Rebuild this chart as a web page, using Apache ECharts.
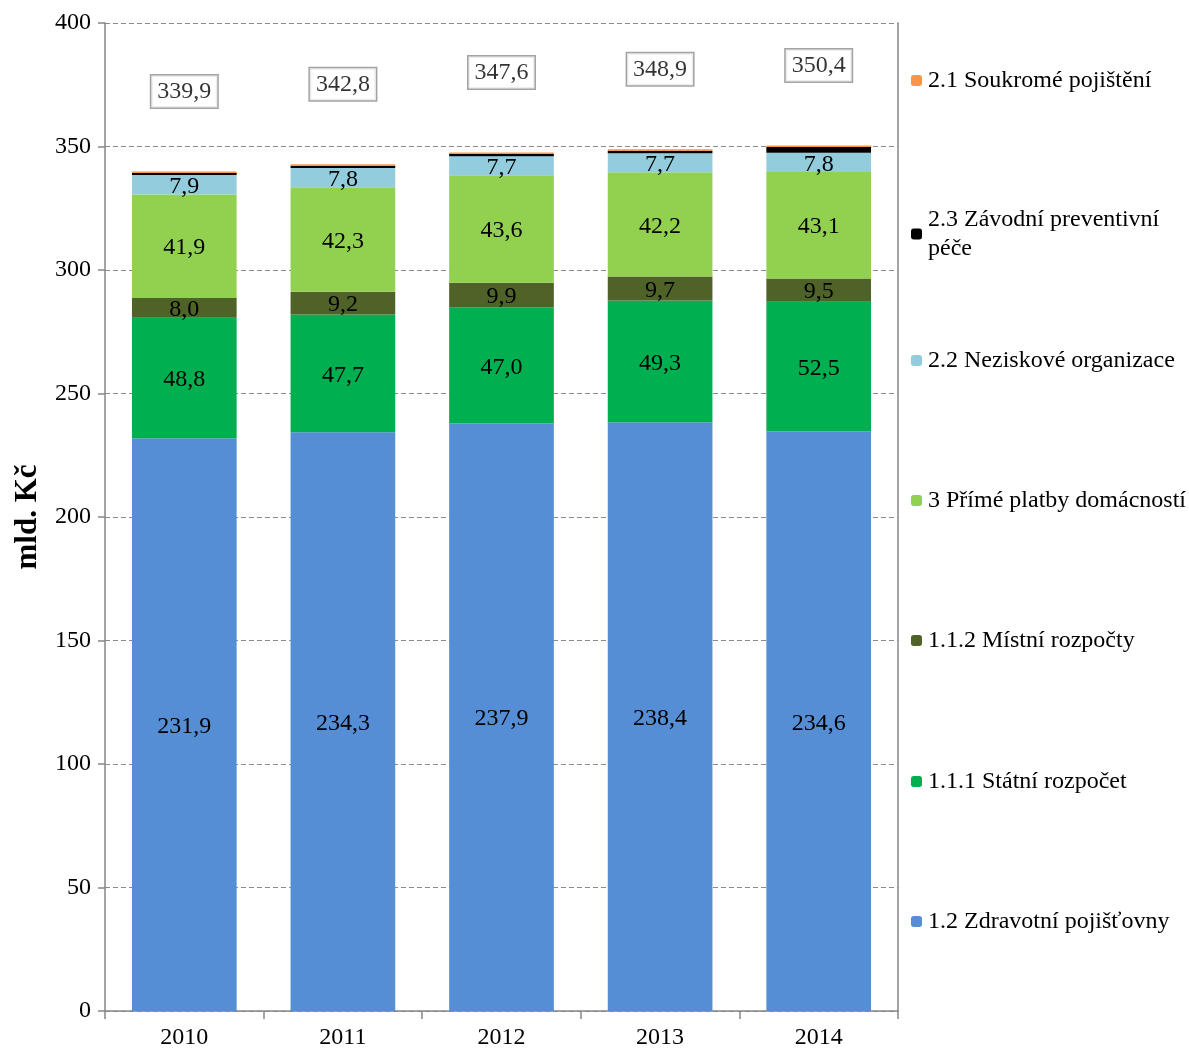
<!DOCTYPE html>
<html><head><meta charset="utf-8">
<script src="https://cdn.jsdelivr.net/npm/echarts@6/dist/echarts.min.js"></script>
<style>html,body{margin:0;padding:0;background:#fff}#c{width:1189px;height:1048px}</style>
</head><body><div id="c"></div>
<script>
const years = ['2010','2011','2012','2013','2014'];
const zdravotniPojistovny = [231.9, 234.3, 237.9, 238.4, 234.6];
const statniRozpocet = [48.8, 47.7, 47.0, 49.3, 52.5];
const mistniRozpocty = [8.0, 9.2, 9.9, 9.7, 9.5];
const primePlatby = [41.9, 42.3, 43.6, 42.2, 43.1];
const neziskove = [7.9, 7.8, 7.7, 7.7, 7.8];
const zavodni = [0.8, 0.9, 0.9, 1.0, 2.3];
const soukrome = [0.6, 0.6, 0.6, 0.6, 0.6];
const totals = [339.9, 342.8, 347.6, 348.9, 350.4];

const FONT = '"Liberation Serif", "Times New Roman", serif';
const FS = 24;
const fmt = v => v.toFixed(1).replace('.', ',');

const seriesDefs = [
  {name: '1.2 Zdravotní pojišťovny', data: zdravotniPojistovny, color: '#558ED5', label: true},
  {name: '1.1.1 Státní rozpočet', data: statniRozpocet, color: '#00B050', label: true},
  {name: '1.1.2 Místní rozpočty', data: mistniRozpocty, color: '#4F6228', label: true},
  {name: '3 Přímé platby domácností', data: primePlatby, color: '#92D050', label: true},
  {name: '2.2 Neziskové organizace', data: neziskove, color: '#93CDDD', label: true},
  {name: '2.3 Závodní preventivní péče', data: zavodni, color: '#000000', label: false},
  {name: '2.1 Soukromé pojištění', data: soukrome, color: '#F79646', label: false}
];

const series = seriesDefs.map(s => ({
  name: s.name, type: 'bar', stack: 'a', barWidth: '66%',
  data: s.data, itemStyle: {color: s.color},
  label: {show: s.label, position: 'inside', offset: [0, 2], color: '#000', fontFamily: FONT, fontSize: FS,
    formatter: p => fmt(p.value)},
  emphasis: {disabled: true}
}));
series.push({
  name: 'total', type: 'scatter', data: totals, symbolSize: 0.1,
  itemStyle: {color: 'transparent'},
  label: {show: true, position: 'inside', offset: [0, -80], color: '#000', fontFamily: FONT, fontSize: FS,
    formatter: p => fmt(p.value), backgroundColor: '#fff', borderColor: '#8c8c8c', borderWidth: 1.5,
    padding: [5, 6, 3, 6]},
  z: 10
});

const legendTops = [79, 218, 359, 499, 639, 780, 920];
const legendOrder = seriesDefs.slice().reverse();
const legends = legendOrder.map((s, i) => ({
  data: [s.name], orient: 'vertical', left: 906, top: legendTops[i] - 18,
  itemWidth: 11, itemHeight: 11, itemGap: 0, selectedMode: false,
  textStyle: {fontFamily: FONT, fontSize: FS, color: '#000', lineHeight: 29, padding: [0,0,0,1]},
  formatter: n => n === '2.3 Závodní preventivní péče' ? '2.3 Závodní preventivní\npéče' : n
}));

const chart = echarts.init(document.getElementById('c'));
chart.setOption({
  animation: false,
  backgroundColor: '#fff',
  grid: {left: 105, right: 291, top: 23, bottom: 37, outerBoundsMode: 'none', containLabel: false},
  legend: legends,
  xAxis: {type: 'category', data: years,
    axisLine: {lineStyle: {color: '#868686', width: 1.5}},
    axisTick: {show: true, length: 8, lineStyle: {color: '#868686', width: 1.5}},
    axisLabel: {color: '#000', fontFamily: FONT, fontSize: FS, margin: 15}},
  yAxis: [{type: 'value', min: 0, max: 400, interval: 50,
    name: 'mld. Kč', nameLocation: 'middle', nameGap: 62,
    nameTextStyle: {fontFamily: FONT, fontSize: 31, fontWeight: 'bold', color: '#000'},
    axisLine: {show: true, lineStyle: {color: '#868686', width: 1.5}},
    axisTick: {show: true, length: 7, lineStyle: {color: '#868686', width: 1.5}},
    axisLabel: {color: '#000', fontFamily: FONT, fontSize: FS, margin: 14},
    splitLine: {lineStyle: {color: '#8c8c8c', type: [5, 3], width: 1}}},
   {type: 'value', min: 0, max: 400, interval: 50, position: 'right',
    axisLine: {show: true, lineStyle: {color: '#868686', width: 1.5}},
    axisTick: {show: false}, axisLabel: {show: false}, splitLine: {show: false}}],
  series: series
});
</script></body></html>
